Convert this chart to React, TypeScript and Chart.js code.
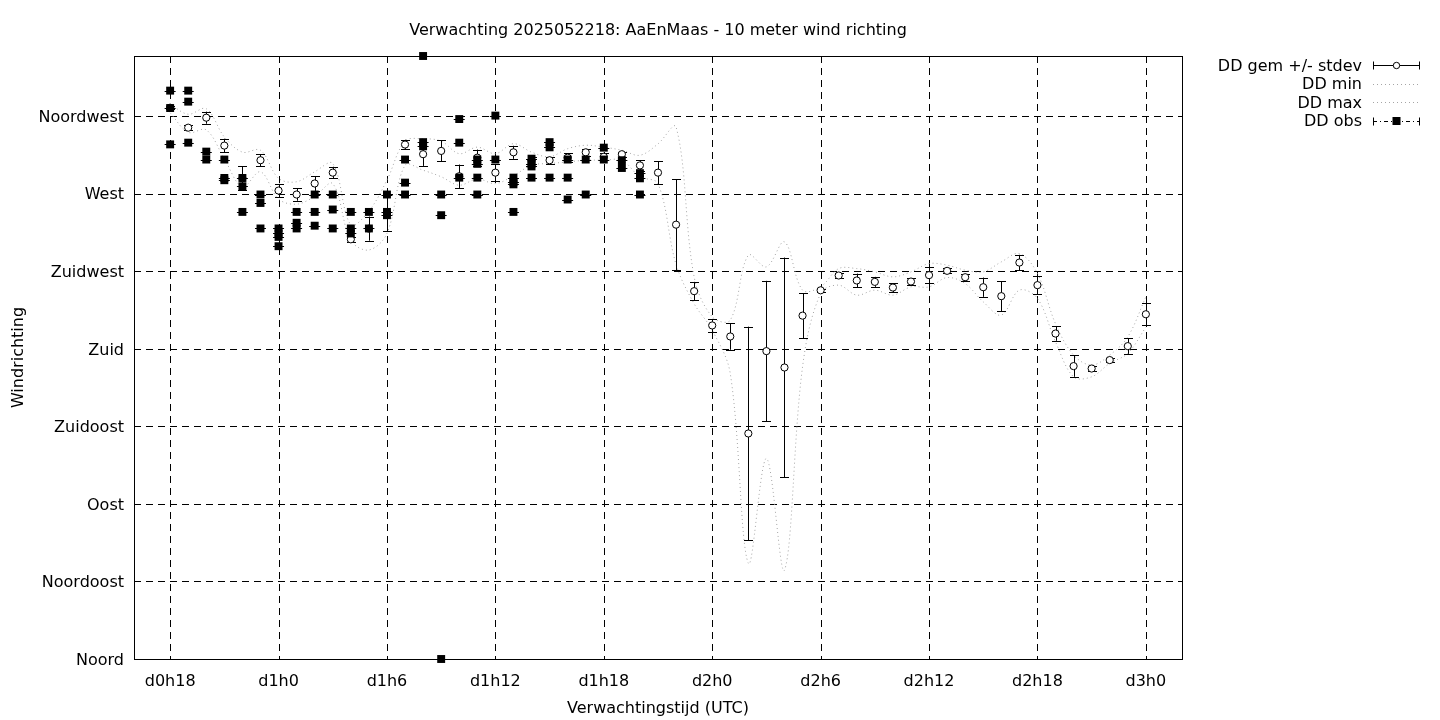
import React, { useEffect, useRef } from "react";
import { Chart, registerables } from "chart.js";
Chart.register(...registerables);

const TITLE = "Verwachting 2025052218: AaEnMaas - 10 meter wind richting";
const X_TITLE = "Verwachtingstijd (UTC)";
const Y_TITLE = "Windrichting";

const HOURS = [18, 19, 20, 21, 22, 23, 24, 25, 26, 27, 28, 29, 30, 31, 32, 33, 34, 35, 36, 37, 38, 39, 40, 41, 42, 43, 44, 45, 46, 47, 48, 49, 50, 51, 52, 53, 54, 55, 56, 57, 58, 59, 60, 61, 62, 63, 64, 65, 66, 67, 68, 69, 70, 71, 72];
const DD_MEAN = [320.0, 308.4, 314.2, 298.0, 279.0, 289.5, 271.9, 269.6, 276.0, 282.3, 243.6, 249.8, 259.0, 298.6, 293.0, 294.9, 280.2, 291.0, 282.3, 294.1, 289.5, 289.5, 291.0, 294.1, 291.5, 293.0, 286.5, 282.3, 252.1, 213.5, 193.6, 187.2, 130.9, 178.7, 169.2, 199.3, 214.0, 222.6, 219.7, 218.9, 215.6, 219.1, 222.8, 225.3, 221.6, 215.8, 210.6, 230.1, 217.0, 188.9, 170.0, 168.6, 173.5, 181.6, 200.1];
const DD_STD = [1.0, 1.5, 3.5, 4.0, 7.0, 3.4, 3.9, 3.6, 4.3, 3.4, 1.5, 7.0, 10.4, 2.8, 6.8, 6.1, 6.8, 4.7, 5.0, 3.8, 2.0, 1.9, 2.7, 2.0, 2.0, 1.5, 3.1, 6.6, 26.4, 5.4, 3.8, 7.7, 62.0, 40.8, 63.8, 13.0, 1.0, 1.2, 4.0, 2.9, 2.6, 1.9, 4.8, 1.5, 2.0, 5.6, 8.6, 4.5, 5.3, 4.2, 6.2, 1.7, 1.0, 4.5, 6.4];
const DD_MIN = [317.0, 305.7, 307.1, 290.3, 274.0, 282.8, 267.0, 264.0, 268.5, 275.9, 243.0, 237.4, 247.0, 286.6, 283.7, 279.9, 275.0, 278.7, 275.9, 280.5, 286.6, 287.6, 288.5, 289.5, 289.5, 289.5, 279.9, 275.9, 229.0, 206.2, 190.9, 165.7, 55.5, 116.4, 51.6, 169.6, 212.2, 217.0, 211.2, 214.1, 211.2, 216.0, 216.0, 221.4, 217.9, 207.3, 199.6, 214.1, 209.3, 184.1, 163.8, 163.8, 171.6, 177.4, 192.6];
const DD_MAX = [322.0, 316.2, 319.4, 303.0, 294.2, 295.3, 279.0, 277.0, 282.8, 287.6, 252.0, 260.0, 278.0, 300.6, 301.9, 300.6, 293.3, 297.1, 293.3, 299.1, 294.2, 291.5, 296.2, 298.2, 297.1, 295.3, 292.4, 299.0, 308.8, 221.8, 198.6, 196.7, 234.4, 227.6, 242.1, 214.1, 216.0, 226.6, 226.6, 224.7, 221.8, 224.7, 229.5, 228.6, 225.7, 224.7, 230.5, 235.3, 223.8, 194.6, 176.4, 170.6, 176.4, 187.0, 210.2];

const OBS_HOURS = [18, 18, 18, 19, 19, 19, 20, 20, 21, 21, 21, 22, 22, 22, 23, 23, 23, 24, 24, 24, 24, 25, 25, 25, 26, 26, 26, 27, 27, 27, 28, 28, 28, 29, 29, 30, 30, 30, 31, 31, 31, 32, 32, 32, 33, 33, 33, 34, 34, 34, 35, 35, 35, 35, 36, 36, 37, 37, 37, 37, 38, 38, 38, 38, 39, 39, 39, 40, 40, 40, 41, 41, 42, 42, 43, 43, 44, 44, 44];
const OBS_VALUES = [329.9, 319.8, 298.7, 329.9, 323.5, 299.7, 294.5, 289.9, 289.9, 279.2, 277.9, 279.2, 274.4, 259.5, 269.6, 264.7, 249.9, 249.9, 247.1, 245.0, 239.6, 259.5, 253.2, 249.9, 269.6, 259.5, 251.5, 269.6, 260.9, 249.9, 259.5, 249.9, 247.0, 259.5, 249.9, 269.6, 259.5, 257.6, 289.9, 276.5, 269.6, 350.0, 300.0, 297.6, 269.6, 257.6, 0.0, 313.4, 299.7, 279.4, 289.9, 287.4, 279.4, 269.6, 315.4, 289.9, 279.4, 276.8, 275.5, 259.5, 290.4, 287.4, 285.9, 279.4, 300.0, 297.0, 279.4, 289.9, 279.4, 266.7, 289.9, 269.6, 296.8, 289.9, 289.5, 285.0, 282.0, 279.0, 269.6];

const X_TICKS = [18, 24, 30, 36, 42, 48, 54, 60, 66, 72];
const Y_TICKS = [0, 45, 90, 135, 180, 225, 270, 315];
const Y_LABELS = ["Noord", "Noordoost", "Oost", "Zuidoost", "Zuid", "Zuidwest", "West", "Noordwest"];
const LEGEND_LABELS = ["DD gem +/- stdev", "DD min", "DD max", "DD obs"];

const FONT = "16px 'DejaVu Sans'";
const GRAY = "rgb(165,165,165)";

const decorPlugin = {
  id: "decor",
  beforeDatasetsDraw(chart: any) {
    const { ctx, chartArea: a, scales } = chart;
    const xs = scales.x, ys = scales.y;
    ctx.save();
    ctx.strokeStyle = "#000";
    ctx.lineWidth = 1;
    ctx.setLineDash([7, 5]);
    X_TICKS.forEach((v) => {
      const px = Math.round(xs.getPixelForValue(v)) + 0.5;
      ctx.beginPath();
      ctx.moveTo(px, a.top);
      ctx.lineTo(px, a.bottom);
      ctx.stroke();
    });
    Y_TICKS.forEach((v) => {
      const py = Math.round(ys.getPixelForValue(v)) + 0.5;
      ctx.beginPath();
      ctx.moveTo(a.left, py);
      ctx.lineTo(a.right, py);
      ctx.stroke();
    });
    ctx.setLineDash([]);
    ctx.strokeRect(Math.round(a.left) + 0.5, Math.round(a.top) + 0.5, Math.round(a.right - a.left), Math.round(a.bottom - a.top));
    ctx.restore();
  },
  beforeDatasetDraw(chart: any, args: any) {
    const { ctx, scales } = chart;
    const xs = scales.x, ys = scales.y;
    const ds = chart.data.datasets[args.index];
    ctx.save();
    ctx.strokeStyle = "#000";
    ctx.lineWidth = 1;
    if (ds.label === LEGEND_LABELS[0]) {
      HOURS.forEach((h, i) => {
        const px = Math.round(xs.getPixelForValue(h)) + 0.5;
        const y1 = ys.getPixelForValue(DD_MEAN[i] + DD_STD[i]);
        const y2 = ys.getPixelForValue(DD_MEAN[i] - DD_STD[i]);
        ctx.beginPath();
        ctx.moveTo(px, y1);
        ctx.lineTo(px, y2);
        ctx.moveTo(px - 4.5, Math.round(y1) + 0.5);
        ctx.lineTo(px + 4.5, Math.round(y1) + 0.5);
        ctx.moveTo(px - 4.5, Math.round(y2) + 0.5);
        ctx.lineTo(px + 4.5, Math.round(y2) + 0.5);
        ctx.stroke();
      });
    }
    if (ds.label === LEGEND_LABELS[3]) {
      OBS_HOURS.forEach((h, i) => {
        const px = xs.getPixelForValue(h);
        const py = Math.round(ys.getPixelForValue(OBS_VALUES[i])) + 0.5;
        ctx.beginPath();
        ctx.moveTo(px - 5.5, py);
        ctx.lineTo(px + 5.5, py);
        ctx.stroke();
      });
    }
    ctx.restore();
  },
  afterDraw(chart: any) {
    const { ctx, chartArea: a, scales } = chart;
    const ys = scales.y;
    const cx = (a.left + a.right) / 2;
    ctx.save();
    ctx.fillStyle = "#000";
    ctx.font = FONT;
    ctx.textAlign = "center";
    ctx.textBaseline = "middle";
    ctx.fillText(TITLE, cx, 30.5);
    ctx.fillText(X_TITLE, cx, 708.5);
    ctx.save();
    ctx.translate(19, (a.top + a.bottom) / 2);
    ctx.rotate(-Math.PI / 2);
    ctx.fillText(Y_TITLE, 0, 0);
    ctx.restore();

    // y tick labels
    ctx.textAlign = "right";
    Y_TICKS.forEach((v, i) => {
      ctx.fillText(Y_LABELS[i], a.left - 10, ys.getPixelForValue(v) + 1.5);
    });

    // legend
    const rows = [65, 83.5, 102, 120.5];
    const tx = 1362, s1 = 1373, s2 = 1420, sm = (s1 + s2) / 2;
    LEGEND_LABELS.forEach((l, i) => ctx.fillText(l, tx, rows[i] + 1.5));
    ctx.strokeStyle = "#000";
    ctx.lineWidth = 1;
    // row 1
    let y = Math.round(rows[0]) + 0.5;
    ctx.beginPath();
    ctx.moveTo(s1, y); ctx.lineTo(s2, y);
    ctx.moveTo(s1 + 0.5, y - 4); ctx.lineTo(s1 + 0.5, y + 4);
    ctx.moveTo(s2 - 0.5, y - 4); ctx.lineTo(s2 - 0.5, y + 4);
    ctx.stroke();
    ctx.beginPath();
    ctx.arc(sm, y, 3.2, 0, Math.PI * 2);
    ctx.fillStyle = "#fff";
    ctx.fill();
    ctx.stroke();
    // rows 2,3
    ctx.strokeStyle = GRAY;
    ctx.setLineDash([1, 3]);
    [rows[1], rows[2]].forEach((ry) => {
      ctx.beginPath();
      ctx.moveTo(s1, Math.round(ry) + 0.5); ctx.lineTo(s2, Math.round(ry) + 0.5);
      ctx.stroke();
    });
    // row 4
    ctx.strokeStyle = "#000";
    y = Math.round(rows[3]) + 0.5;
    ctx.setLineDash([4, 3, 1, 3]);
    ctx.beginPath();
    ctx.moveTo(s1, y); ctx.lineTo(s2, y);
    ctx.stroke();
    ctx.setLineDash([]);
    ctx.beginPath();
    ctx.moveTo(s1 + 0.5, y - 4); ctx.lineTo(s1 + 0.5, y + 4);
    ctx.moveTo(s2 - 0.5, y - 4); ctx.lineTo(s2 - 0.5, y + 4);
    ctx.stroke();
    ctx.fillStyle = "#000";
    ctx.fillRect(sm - 4, y - 4.5, 8, 8);
    ctx.restore();
  },
};

export default function App() {
  const ref = useRef<HTMLCanvasElement | null>(null);
  useEffect(() => {
    if (!ref.current) return;
    const chart = new Chart(ref.current, {
      type: "scatter",
      data: {
        datasets: [
          {
            label: LEGEND_LABELS[3],
            data: OBS_HOURS.map((h, i) => ({ x: h, y: OBS_VALUES[i] })),
            pointStyle: "rect",
            pointRadius: 5.6,
            pointBackgroundColor: "#000",
            pointBorderColor: "#000",
            pointBorderWidth: 0,
            showLine: false,
            clip: false,
            order: 0,
          } as any,
          {
            label: LEGEND_LABELS[0],
            data: HOURS.map((h, i) => ({ x: h, y: DD_MEAN[i] })),
            pointStyle: "circle",
            pointRadius: 3.6,
            pointBackgroundColor: "#fff",
            pointBorderColor: "#000",
            pointBorderWidth: 1,
            showLine: false,
            order: 1,
          } as any,
          {
            label: LEGEND_LABELS[1],
            data: HOURS.map((h, i) => ({ x: h, y: DD_MIN[i] })),
            showLine: true,
            pointRadius: 0,
            borderColor: GRAY,
            borderWidth: 1,
            borderDash: [1, 3],
            tension: 0.35,
            order: 2,
          } as any,
          {
            label: LEGEND_LABELS[2],
            data: HOURS.map((h, i) => ({ x: h, y: DD_MAX[i] })),
            showLine: true,
            pointRadius: 0,
            borderColor: GRAY,
            borderWidth: 1,
            borderDash: [1, 3],
            tension: 0.35,
            order: 3,
          } as any,
        ],
      },
      options: {
        responsive: false,
        animation: false,
        devicePixelRatio: 1,
        layout: { padding: { top: 56, right: 258, bottom: 0, left: 0 } },
        plugins: { legend: { display: false }, tooltip: { enabled: false }, title: { display: false } },
        scales: {
          x: {
            type: "linear",
            min: 16,
            max: 74,
            afterBuildTicks: (s: any) => { s.ticks = X_TICKS.map((v) => ({ value: v })); },
            afterFit: (s: any) => { s.height = 61; },
            grid: { display: false, drawTicks: false },
            border: { display: false },
            ticks: {
              color: "#000",
              font: { family: "DejaVu Sans", size: 16 },
              padding: 13,
              maxRotation: 0,
              autoSkip: false,
              callback: (v: any) => `d${Math.floor(Number(v) / 24)}h${Number(v) % 24}`,
            },
          },
          y: {
            type: "linear",
            min: 0,
            max: 350,
            afterBuildTicks: (s: any) => { s.ticks = Y_TICKS.map((v) => ({ value: v })); },
            afterFit: (s: any) => { s.width = 134; },
            grid: { display: false, drawTicks: false },
            border: { display: false },
            ticks: { display: false },
          },
        },
      },
      plugins: [decorPlugin],
    } as any);
    return () => chart.destroy();
  }, []);
  return (
    <div style={{ position: "fixed", left: 0, top: 0, width: 1440, height: 720, background: "#fff" }}>
      <canvas ref={ref} width={1440} height={720} style={{ width: 1440, height: 720, display: "block" }} />
    </div>
  );
}
